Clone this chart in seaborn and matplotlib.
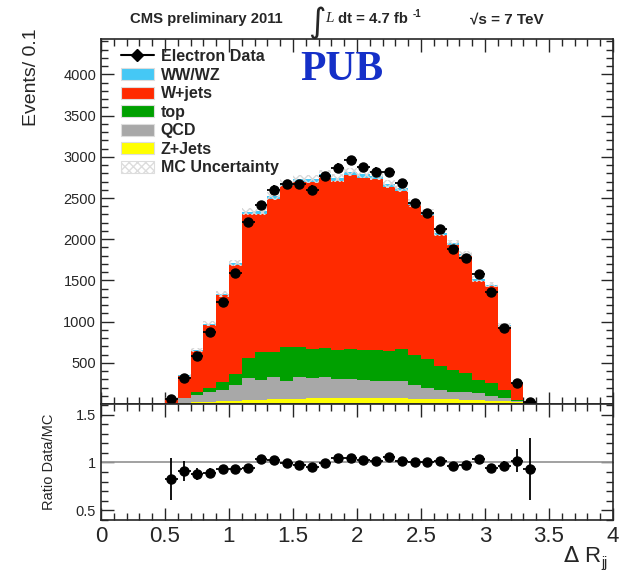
import numpy as np
import pandas as pd
import matplotlib
matplotlib.use("Agg")
import matplotlib.pyplot as plt
import seaborn as sns
from matplotlib.lines import Line2D
from matplotlib.patches import Patch
from matplotlib.ticker import MultipleLocator

# ---------------- data ----------------
bin_edges = [0.5, 0.6, 0.7, 0.8, 0.9, 1.0, 1.1, 1.2, 1.3, 1.4, 1.5, 1.6, 1.7, 1.8,
             1.9, 2.0, 2.1, 2.2, 2.3, 2.4, 2.5, 2.6, 2.7, 2.8, 2.9, 3.0, 3.1, 3.2,
             3.3, 3.4]
data_counts = [61, 317, 577, 870, 1244, 1594, 2204, 2415, 2602, 2667, 2667, 2602,
               2764, 2870, 2961, 2873, 2819, 2812, 2678, 2443, 2322, 2120, 1877,
               1768, 1578, 1363, 918, 259, 28]
zjets = [4, 16, 20, 28, 32, 40, 49, 53, 61, 65, 65, 67, 67, 67, 67, 67, 67, 67, 67,
         62, 60, 58, 55, 49, 45, 40, 36, 28, 3]
qcd = [8, 53, 89, 118, 138, 191, 263, 238, 263, 214, 267, 253, 260, 236, 236, 224,
       216, 216, 216, 169, 138, 112, 87, 101, 93, 57, 33, 12, 2]
top = [4, 6, 41, 52, 93, 137, 250, 344, 303, 409, 364, 347, 357, 352, 364, 364,
       372, 364, 384, 364, 344, 291, 271, 222, 153, 162, 101, 9, 5]
wjets = [57, 269, 499, 766, 1055, 1320, 1745, 1677, 1865, 1955, 2003, 2023, 2070,
         2053, 2110, 2094, 2080, 1990, 1923, 1815, 1749, 1589, 1516, 1427, 1206,
         1173, 774, 201, 19]
wwwz = [1, 4, 8, 12, 15, 20, 28, 30, 32, 35, 36, 37, 38, 38, 38, 38, 37, 36, 35,
        33, 31, 28, 26, 24, 20, 18, 12, 4, 1]
mc_unc = [6, 15, 22, 28, 33, 38, 45, 45, 47, 49, 50, 50, 51, 50, 51, 50, 50, 49,
          48, 46, 45, 42, 41, 39, 35, 34, 27, 12, 4]
ratio_err = [0.22, 0.10, 0.06, 0.05, 0.04, 0.035, 0.03, 0.03, 0.03, 0.03, 0.03,
             0.03, 0.03, 0.03, 0.03, 0.03, 0.03, 0.03, 0.03, 0.03, 0.03, 0.03,
             0.035, 0.035, 0.035, 0.04, 0.05, 0.12, 0.32]

processes = ["WW/WZ", "W+jets", "top", "QCD", "Z+Jets"]
colors = {"WW/WZ": "#45c8f5", "W+jets": "#ff2a00", "top": "#00a000",
          "QCD": "#a8a8a8", "Z+Jets": "#ffff00"}

# ---------------- derived tables ----------------
edges = np.array(bin_edges)
centers = (edges[:-1] + edges[1:]) / 2
half_w = (edges[1:] - edges[:-1]) / 2
comp = {"WW/WZ": wwwz, "W+jets": wjets, "top": top, "QCD": qcd, "Z+Jets": zjets}
rows = []
for p in processes:
    for c, v in zip(centers, comp[p]):
        rows.append({"x": float(c), "w": float(v), "process": p})
df = pd.DataFrame(rows)
total = np.sum([np.array(comp[p]) for p in processes], axis=0)
data_arr = np.array(data_counts, dtype=float)
ratio = data_arr / total

# ---------------- figure ----------------
sns.set_style("ticks")
plt.rcParams["font.family"] = ["Liberation Sans", "DejaVu Sans"]
W, H = 621, 571
fig = plt.figure(figsize=(W / 100, H / 100), dpi=100)
L, R = 101, 613
ax = fig.add_axes([L / W, 1 - 404 / H, (R - L) / W, (404 - 39) / H])
ax2 = fig.add_axes([L / W, 1 - 520 / H, (R - L) / W, (520 - 404) / H], sharex=ax)

sns.histplot(data=df, x="x", weights="w", hue="process", hue_order=processes,
             palette=colors, multiple="stack", bins=list(bin_edges), element="step",
             fill=True, alpha=1, linewidth=0, legend=False, ax=ax)

# MC uncertainty band
unc_lo = np.append(total - np.array(mc_unc), (total - np.array(mc_unc))[-1])
unc_hi = np.append(total + np.array(mc_unc), (total + np.array(mc_unc))[-1])
ax.fill_between(edges, unc_lo, unc_hi, step="post", facecolor="none",
                edgecolor="#d8d8d8", hatch="xxxx", linewidth=0)

ax.errorbar(centers, data_arr, xerr=half_w, yerr=np.sqrt(data_arr), fmt="o",
            color="black", ms=6.5, elinewidth=1.3, capsize=0, zorder=5)

ax.set_xlim(0, 4)
ax.set_ylim(0, 4430)
ax.set_xlabel("")
ax.set_ylabel("")
ax.text(-0.119, 1.03, "Events/ 0.1", fontsize=14, rotation=90, ha="right",
        va="top", transform=ax.transAxes)
ax.yaxis.set_major_locator(MultipleLocator(500))
ax.yaxis.set_minor_locator(MultipleLocator(100))
ax.xaxis.set_major_locator(MultipleLocator(0.5))
ax.xaxis.set_minor_locator(MultipleLocator(0.1))
ax.set_yticks([500, 1000, 1500, 2000, 2500, 3000, 3500, 4000])
ax.tick_params(axis="x", labelbottom=False)
ax.tick_params(axis="y", labelsize=10.5)
for a in (ax, ax2):
    a.tick_params(which="both", direction="in", top=True, right=True, width=1.0)
    a.tick_params(which="major", length=9)
    a.tick_params(which="minor", length=5)
    for s in a.spines.values():
        s.set_linewidth(1.2)
        s.set_visible(True)

# legend
handles = [Line2D([0], [0], color="black", marker="D", ms=6, lw=1.5)]
labels = ["Electron Data"]
for p in processes:
    handles.append(Patch(facecolor=colors[p], edgecolor="#dddddd", lw=0.8))
    labels.append(p)
handles.append(Patch(facecolor="white", edgecolor="#dddddd", hatch="xxxx", lw=0.8))
labels.append("MC Uncertainty")
leg = ax.legend(handles, labels, loc="upper left", bbox_to_anchor=(0.02, 0.998),
                frameon=False, handlelength=2.05, handleheight=0.8,
                labelspacing=0.22, handletextpad=0.45, borderaxespad=0.2,
                prop={"weight": "bold", "size": 11.5})

# ratio panel
ax2.axhline(1.0, color="#9a9a9a", lw=1.3, zorder=1)
ax2.errorbar(centers, ratio, xerr=half_w, yerr=ratio_err, fmt="o", color="black",
             ms=6.5, elinewidth=1.3, capsize=0, zorder=5)
ax2.set_ylim(0.4, 1.61)
ax2.set_yticks([0.5, 1.0, 1.5])
ax2.set_yticklabels(["0.5", "1", "1.5"])
ax2.yaxis.set_minor_locator(MultipleLocator(0.1))
ax2.set_xticks([0, 0.5, 1, 1.5, 2, 2.5, 3, 3.5, 4])
ax2.set_xticklabels(["0", "0.5", "1", "1.5", "2", "2.5", "3", "3.5", "4"])
ax2.tick_params(axis="x", labelsize=16, pad=4)
ax2.tick_params(axis="y", labelsize=10.5)
ax2.set_ylabel("")
ax2.text(-0.088, 0.5, "Ratio Data/MC", fontsize=10.5, rotation=90, ha="right",
         va="center", transform=ax2.transAxes)
ax2.set_xlabel("")

fig.text(563 / W, 1 - 556 / H, r"$\Delta$ R", fontsize=16, ha="left",
         va="center")
fig.text(601 / W, 1 - 563 / H, "jj", fontsize=10, ha="left", va="center")

# header
fig.text(130 / W, 1 - 19 / H, "CMS preliminary 2011", fontsize=10.7, weight="bold",
         ha="left", va="center")
fig.text(308 / W, 1 - 23 / H, r"$\int$", fontsize=17, ha="left", va="center")
fig.text(325 / W, 1 - 19 / H, "L", fontsize=11, style="italic",
         family=["Liberation Serif", "DejaVu Serif"], ha="left", va="center")
fig.text(338 / W, 1 - 19 / H, "dt = 4.7 fb", fontsize=10.7, weight="bold",
         ha="left", va="center")
fig.text(413 / W, 1 - 14 / H, "-1", fontsize=7, weight="bold",
         ha="left", va="center")
fig.text(470 / W, 1 - 19 / H, "√s = 7 TeV", fontsize=11, weight="bold",
         ha="left", va="center")

fig.text(342 / W, 1 - 70 / H, "PUB", fontsize=30, weight="bold",
         family=["Liberation Serif", "DejaVu Serif"], color="#1530c8",
         ha="center", va="center")

fig.savefig("out.png", dpi=100)
